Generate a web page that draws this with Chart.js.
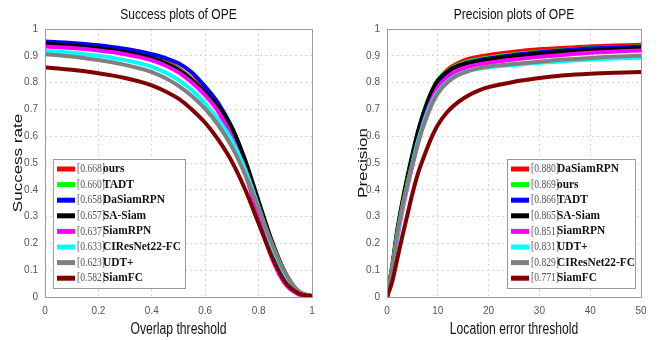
<!DOCTYPE html>
<html>
<head>
<meta charset="utf-8">
<script src="https://cdn.jsdelivr.net/npm/chart.js@4.4.1/dist/chart.umd.min.js"></script>
<style>
  body { margin: 0; background: #fff; }
  .wrap { display: flex; width: 666px; height: 340px; }
  .box { position: relative; width: 333px; height: 340px; }
</style>
</head>
<body>
<div class="wrap">
  <div class="box"><canvas id="successChart"></canvas></div>
  <div class="box"><canvas id="precisionChart"></canvas></div>
</div>
<script>
// overlap thresholds for the success plot
const overlapThresholds = [0, 0.05, 0.1, 0.15, 0.2, 0.25, 0.3, 0.35, 0.4, 0.45, 0.5,
  0.55, 0.6, 0.65, 0.7, 0.75, 0.8, 0.85, 0.9, 0.95, 1];
const successNames = ["ours", "TADT", "DaSiamRPN", "SA-Siam", "SiamRPN", "CIResNet22-FC", "UDT+", "SiamFC"];
const successScores = ["0.668", "0.660", "0.658", "0.657", "0.637", "0.633", "0.623", "0.582"];
const successOurs = [.950,.948,.945,.941,.936,.930,.922,.912,.899,.880,.853,.815,.768,.708,.628,.500,.345,.198,.082,.018,.003];
const successTADT = [.945,.943,.940,.936,.931,.925,.917,.907,.894,.875,.849,.812,.765,.707,.628,.498,.342,.195,.080,.017,.003];
const successDaSiamRPN = [.953,.951,.948,.944,.939,.933,.926,.917,.906,.892,.872,.838,.785,.722,.632,.505,.345,.190,.075,.015,.003];
const successSASiam = [.945,.942,.938,.933,.928,.922,.914,.904,.891,.873,.847,.810,.763,.708,.632,.510,.358,.208,.090,.020,.003];
const successSiamRPN = [.935,.932,.929,.925,.920,.914,.906,.896,.883,.864,.838,.800,.752,.690,.595,.462,.295,.145,.048,.010,.002];
const successCIResNet = [.918,.915,.911,.906,.900,.893,.884,.873,.859,.838,.810,.772,.722,.660,.583,.475,.335,.190,.078,.017,.003];
const successUDT = [.906,.902,.897,.891,.884,.876,.866,.854,.839,.817,.788,.750,.702,.640,.560,.455,.330,.200,.090,.021,.004];
const successSiamFC = [.857,.853,.848,.842,.835,.827,.817,.805,.790,.768,.740,.700,.650,.585,.505,.400,.275,.150,.055,.013,.003];

// location error thresholds for the precision plot
const errorThresholds = [0, 1, 2, 3, 4, 5, 6, 7, 8, 9, 10, 12, 14, 16, 18, 20, 25, 30, 35, 40, 45, 50];
const precisionNames = ["DaSiamRPN", "ours", "TADT", "SA-Siam", "SiamRPN", "UDT+", "CIResNet22-FC", "SiamFC"];
const precisionScores = ["0.880", "0.869", "0.866", "0.865", "0.851", "0.831", "0.829", "0.771"];
const precisionDaSiamRPN = [0,.100,.230,.340,.435,.520,.600,.670,.727,.773,.808,.850,.873,.888,.897,.903,.915,.924,.930,.935,.938,.941];
const precisionOurs = [0,.115,.250,.355,.450,.535,.612,.677,.732,.776,.810,.846,.866,.879,.887,.893,.906,.915,.922,.928,.932,.935];
const precisionTADT = [0,.105,.238,.345,.440,.525,.603,.668,.723,.768,.802,.840,.862,.875,.884,.890,.903,.913,.921,.927,.931,.934];
const precisionSASiam = [0,.110,.245,.350,.445,.530,.610,.675,.730,.775,.808,.843,.862,.873,.880,.886,.899,.908,.915,.920,.925,.929];
const precisionSiamRPN = [0,.095,.215,.320,.410,.490,.570,.640,.698,.745,.782,.823,.845,.859,.868,.874,.886,.896,.904,.911,.916,.920];
const precisionUDT = [0,.100,.225,.330,.420,.500,.575,.637,.690,.733,.765,.806,.830,.844,.852,.857,.866,.874,.880,.886,.890,.893];
const precisionCIResNet = [0,.110,.235,.335,.420,.495,.565,.628,.680,.725,.760,.802,.828,.843,.853,.860,.869,.878,.886,.892,.897,.900];
const precisionSiamFC = [0,.055,.140,.225,.305,.385,.455,.510,.560,.605,.642,.693,.727,.752,.770,.783,.803,.817,.827,.833,.837,.840];

const rankColors = ["#ff0000", "#00ff00", "#0000ff", "#000000", "#ff00ff", "#00ffff", "#808080", "#800000"];

function makeDatasets(names, series, xs) {
  return names.map((name, i) => ({
    label: name,
    data: series[i].map((v, j) => ({ x: xs[j], y: v })),
    borderColor: rankColors[i],
    backgroundColor: rankColors[i],
    borderWidth: 4,
    pointRadius: 0,
    cubicInterpolationMode: "monotone",
    order: names.length - i,
  }));
}

// text squeezed sideways a bit, like the original figure
function squeezedText(ctx, text, x, y, font, sx, rotate) {
  ctx.save();
  ctx.translate(x, y);
  if (rotate) {
    ctx.rotate(-Math.PI / 2);
    ctx.scale(1, sx);
  } else {
    ctx.scale(sx, 1);
  }
  ctx.font = font;
  ctx.fillText(text, 0, 0);
  ctx.restore();
}

// frame, titles and the boxed legend inside the plot
const framePlugin = {
  id: "frameBox",
  afterDraw(chart, args, opts) {
    const ctx = chart.ctx;
    const a = chart.chartArea;
    const cx = (a.left + a.right) / 2;
    ctx.save();
    ctx.strokeStyle = "#999";
    ctx.lineWidth = 1;
    ctx.strokeRect(a.left + 0.5, a.top + 0.5, a.right - a.left, a.bottom - a.top);

    ctx.fillStyle = "#111";
    ctx.textAlign = "center";
    ctx.textBaseline = "middle";
    squeezedText(ctx, opts.title, cx, 15, "14px 'Liberation Sans', Arial, sans-serif", 0.86, false);
    squeezedText(ctx, opts.xTitle, cx, 330, "16px 'Liberation Sans', Arial, sans-serif", 0.76, false);
    squeezedText(ctx, opts.yTitle, opts.yTitleX, (a.top + a.bottom) / 2, "17px 'Liberation Sans', Arial, sans-serif", 0.8, true);

    const lg = opts.legend;
    ctx.fillStyle = "#fff";
    ctx.fillRect(lg.x, lg.y, lg.w, lg.h);
    ctx.strokeStyle = "#999";
    ctx.strokeRect(lg.x + 0.5, lg.y + 0.5, lg.w, lg.h);
    ctx.textAlign = "left";
    chart.data.datasets.forEach((ds, i) => {
      const y = lg.y + 10 + i * 15.6;
      ctx.strokeStyle = ds.borderColor;
      ctx.lineWidth = 5;
      ctx.beginPath();
      ctx.moveTo(lg.x + 4, y);
      ctx.lineTo(lg.x + 22, y);
      ctx.stroke();
      ctx.fillStyle = "#555";
      squeezedText(ctx, "[" + opts.scores[i] + "]", lg.x + 24, y, "12px 'Liberation Serif', serif", 0.8, false);
      ctx.fillStyle = "#111";
      squeezedText(ctx, ds.label, lg.x + 50, y, "bold 12px 'Liberation Serif', serif", 0.95, false);
    });
    ctx.restore();
  },
};

function tickText(v) {
  return String(Math.round(v * 100) / 100);
}

function makeOptions(cfg) {
  const tickFont = { family: "'Liberation Sans', Arial, sans-serif", size: 10 };
  return {
    responsive: true,
    maintainAspectRatio: false,
    animation: false,
    layout: { padding: { top: 29, right: cfg.padRight, bottom: 0, left: 0 } },
    plugins: {
      legend: { display: false },
      tooltip: { enabled: false },
      frameBox: cfg.frame,
    },
    scales: {
      x: {
        type: "linear",
        min: cfg.xMin,
        max: cfg.xMax,
        afterFit: (s) => { s.height = 43; },
        ticks: { stepSize: cfg.xStep, color: "#555", font: tickFont, padding: 8, maxRotation: 0, callback: tickText },
        grid: { color: "#d4d4d4", drawTicks: false },
        border: { display: false, dash: [2, 3] },
      },
      y: {
        min: 0,
        max: 1,
        afterFit: (s) => { s.width = cfg.yWidth; },
        ticks: { stepSize: 0.1, color: "#555", font: tickFont, padding: 7, callback: tickText },
        grid: { color: "#d4d4d4", drawTicks: false },
        border: { display: false, dash: [2, 3] },
      },
    },
  };
}

new Chart(document.getElementById("successChart"), {
  type: "line",
  data: {
    datasets: makeDatasets(successNames,
      [successOurs, successTADT, successDaSiamRPN, successSASiam, successSiamRPN, successCIResNet, successUDT, successSiamFC],
      overlapThresholds),
  },
  options: makeOptions({
    xMin: 0, xMax: 1, xStep: 0.2,
    yWidth: 45, padRight: 21,
    frame: {
      title: "Success plots of OPE",
      xTitle: "Overlap threshold",
      yTitle: "Success rate",
      yTitleX: 18,
      scores: successScores,
      legend: { x: 53, y: 159, w: 132, h: 129 },
    },
  }),
  plugins: [framePlugin],
});

new Chart(document.getElementById("precisionChart"), {
  type: "line",
  data: {
    datasets: makeDatasets(precisionNames,
      [precisionDaSiamRPN, precisionOurs, precisionTADT, precisionSASiam, precisionSiamRPN, precisionUDT, precisionCIResNet, precisionSiamFC],
      errorThresholds),
  },
  options: makeOptions({
    xMin: 0, xMax: 50, xStep: 10,
    yWidth: 54, padRight: 25,
    frame: {
      title: "Precision plots of OPE",
      xTitle: "Location error threshold",
      yTitle: "Precision",
      yTitleX: 30,
      scores: precisionScores,
      legend: { x: 174, y: 159, w: 128, h: 129 },
    },
  }),
  plugins: [framePlugin],
});
</script>
</body>
</html>
